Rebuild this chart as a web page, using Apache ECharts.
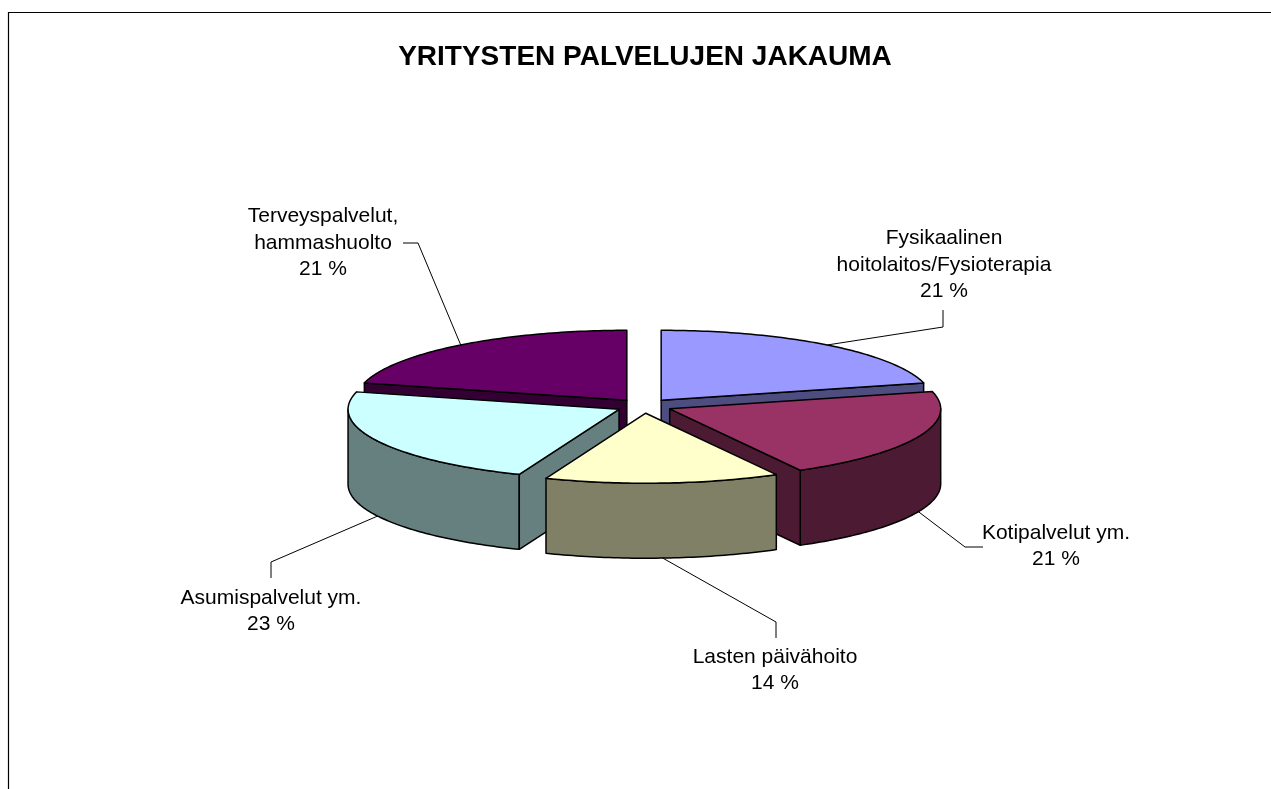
<!DOCTYPE html>
<html>
<head>
<meta charset="utf-8">
<style>
  html, body { margin: 0; padding: 0; background: #fff; }
  #echarts { width: 1271px; height: 789px; }
</style>
<script src="https://cdn.jsdelivr.net/npm/echarts@6/dist/echarts.min.js"></script>
</head>
<body>
<div id="echarts"></div>
<script>
// 数据
var title = "YRITYSTEN PALVELUJEN JAKAUMA";
var categories = [
  "Fysikaalinen\nhoitolaitos/Fysioterapia",
  "Kotipalvelut ym.",
  "Lasten päivähoito",
  "Asumispalvelut ym.",
  "Terveyspalvelut,\nhammashuolto"
];
var values = [21, 21, 14, 23, 21];

// 颜色 (top face / side)
var topColors = ["#9999FF", "#993366", "#FFFFCC", "#CCFFFF", "#660066"];
var sideColors = ["#4D4D80", "#4D1A33", "#808066", "#668080", "#330033"];

// 3D pie geometry
var CX = 644, CY = 406, RX = 271, RY = 70, DEPTH = 75, EXPLODE = 28;

// label layout, relative to pie center: text center, attach point, elbow
var labelLayout = [
  { text: [300, -141], attach: [299, -96], elbow: [299, -79] },
  { text: [412, 140], attach: [339, 141], elbow: [321, 141] },
  { text: [131, 264], attach: [132, 232], elbow: [132, 216] },
  { text: [-373, 205], attach: [-373, 172], elbow: [-373, 156] },
  { text: [-321, -163], attach: [-241, -163], elbow: [-226, -163] }
];

var total = values.reduce(function (s, v) { return s + v; }, 0);
var angles = [];
var acc = 0;
values.forEach(function (v) {
  var a0 = acc / total * 360;
  acc += v;
  var a1 = acc / total * 360;
  angles.push([a0, a1, (a0 + a1) / 2]);
});

// draw order for sides: back slices first
var order = angles.map(function (a, i) { return i; }).sort(function (p, q) {
  return -Math.cos(angles[p][2] * Math.PI / 180) + Math.cos(angles[q][2] * Math.PI / 180);
});
var rank = [];
order.forEach(function (idx, r) { rank[idx] = r; });

function pt(cx, cy, a, dy) {
  var r = a * Math.PI / 180;
  return [cx + RX * Math.sin(r), cy - RY * Math.cos(r) + (dy || 0)];
}

function arc(cx, cy, s, e, dy) {
  var pts = [];
  var n = Math.max(2, Math.ceil(Math.abs(e - s)));
  for (var k = 0; k <= n; k++) {
    pts.push(pt(cx, cy, s + (e - s) * k / n, dy));
  }
  return pts;
}

function renderItem(params, api) {
  var i = params.dataIndex;
  var a0 = angles[i][0], a1 = angles[i][1], mid = angles[i][2];
  var mr = mid * Math.PI / 180;
  var ox = CX + EXPLODE * Math.sin(mr);
  var oy = CY - EXPLODE * (RY / RX) * Math.cos(mr);
  var children = [];
  var edge = { stroke: "#000", lineWidth: 1.5, lineJoin: "round" };

  // outer side (front half only)
  var s = Math.max(a0, 90), e = Math.min(a1, 270);
  if (e > s) {
    var pts = arc(ox, oy, s, e, 0).concat(arc(ox, oy, e, s, DEPTH));
    children.push({
      type: "polygon", z2: 10 + rank[i],
      shape: { points: pts },
      style: Object.assign({ fill: sideColors[i] }, edge)
    });
  }
  // radial walls
  if (Math.sin(a0 * Math.PI / 180) < -1e-6) {
    var p0 = pt(ox, oy, a0, 0);
    children.push({
      type: "polygon", z2: 10 + rank[i],
      shape: { points: [[ox, oy], p0, [p0[0], p0[1] + DEPTH], [ox, oy + DEPTH]] },
      style: Object.assign({ fill: sideColors[i] }, edge)
    });
  }
  if (Math.sin(a1 * Math.PI / 180) > 1e-6) {
    var p1 = pt(ox, oy, a1, 0);
    children.push({
      type: "polygon", z2: 10 + rank[i],
      shape: { points: [[ox, oy], p1, [p1[0], p1[1] + DEPTH], [ox, oy + DEPTH]] },
      style: Object.assign({ fill: sideColors[i] }, edge)
    });
  }
  // top face
  children.push({
    type: "polygon", z2: 100,
    shape: { points: [[ox, oy]].concat(arc(ox, oy, a0, a1, 0)) },
    style: Object.assign({ fill: topColors[i] }, edge)
  });

  // leader line + label
  var L = labelLayout[i];
  var start = pt(ox, oy, mid, Math.cos(mr) > 0 ? 0 : DEPTH);
  children.push({
    type: "polyline", z2: 200,
    shape: { points: [start, [CX + L.elbow[0], CY + L.elbow[1]], [CX + L.attach[0], CY + L.attach[1]]] },
    style: { stroke: "#000", lineWidth: 1, fill: null }
  });
  children.push({
    type: "text", z2: 200,
    style: {
      text: categories[i] + "\n" + Math.round(values[i] / total * 100) + " %",
      x: CX + L.text[0], y: CY + L.text[1],
      align: "center", verticalAlign: "middle",
      fontFamily: "Liberation Sans, Arial, sans-serif", fontSize: 21,
      lineHeight: 26.5, fill: "#000"
    }
  });
  return { type: "group", children: children };
}

var chartDom = document.getElementById("echarts");
var myChart = echarts.init(chartDom);
var option;

option = {
  animation: false,
  backgroundColor: "#fff",
  graphic: [
    {
      type: "rect", silent: true,
      shape: { x: 8.5, y: 12.5, width: 1400, height: 900 },
      style: { fill: null, stroke: "#000", lineWidth: 1.2 }
    },
    {
      type: "text", silent: true,
      style: {
        text: title, x: 645, y: 57, align: "center", verticalAlign: "middle",
        fontFamily: "Liberation Sans, Arial, sans-serif", fontSize: 28, fontWeight: "bold", fill: "#000"
      }
    }
  ],
  series: [
    {
      type: "custom",
      coordinateSystem: "none",
      silent: true,
      renderItem: renderItem,
      data: values
    }
  ]
};

option && myChart.setOption(option);
</script>
</body>
</html>
